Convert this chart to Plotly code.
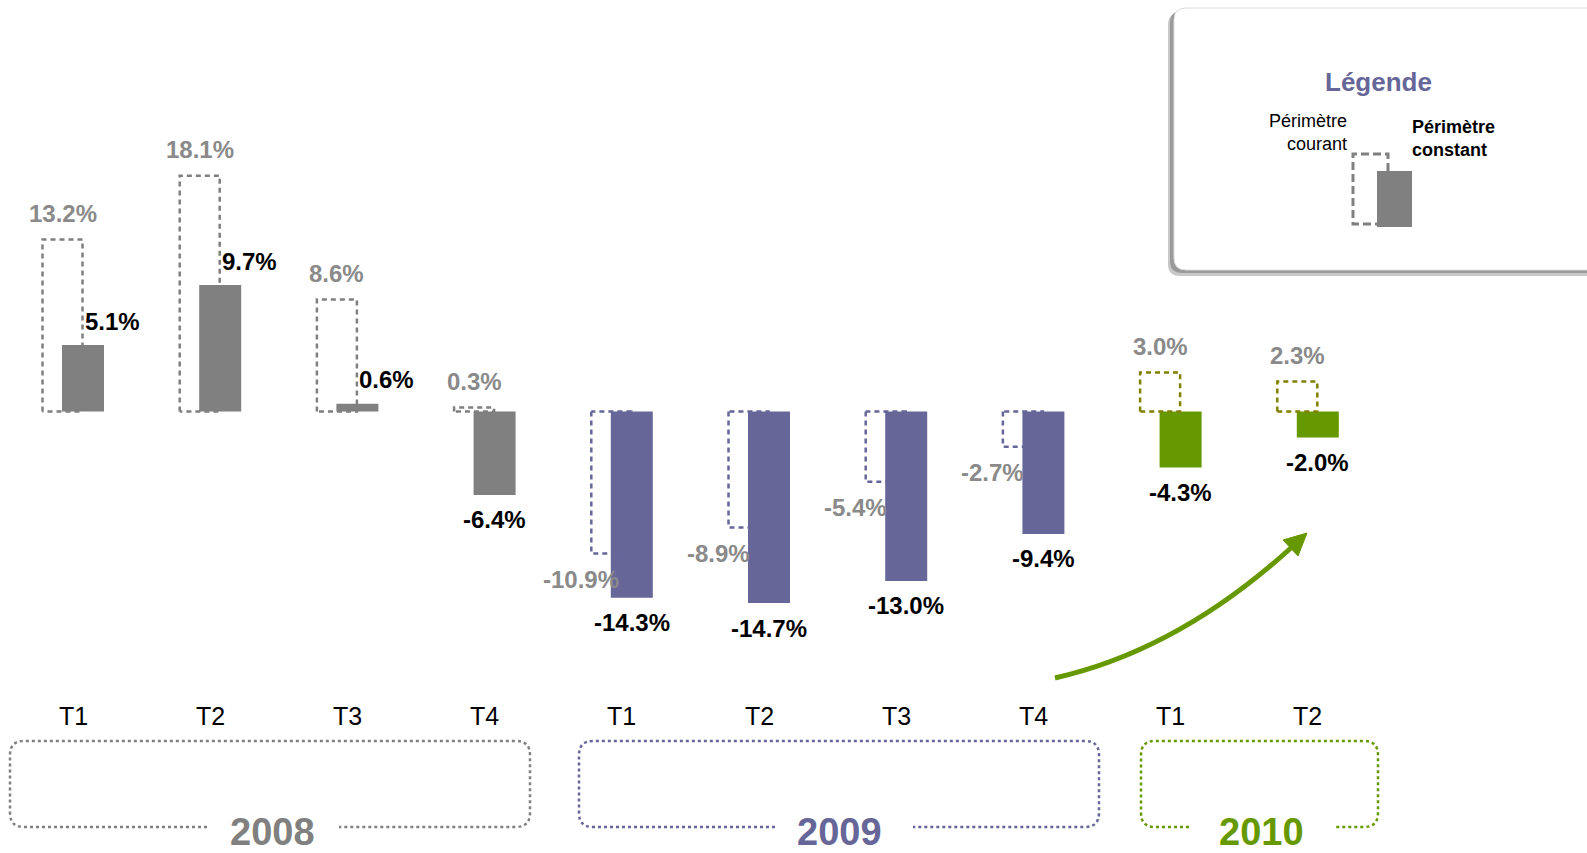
import plotly.graph_objects as go

W, H = 1587, 853

quarters = ["T1", "T2", "T3", "T4", "T1", "T2", "T3", "T4", "T1", "T2"]
years = ["2008", "2008", "2008", "2008", "2009", "2009", "2009", "2009", "2010", "2010"]
courant = [13.2, 18.1, 8.6, 0.3, -10.9, -8.9, -5.4, -2.7, 3.0, 2.3]
constant = [5.1, 9.7, 0.6, -6.4, -14.3, -14.7, -13.0, -9.4, -4.3, -2.0]

fill_col = {"2008": "#808080", "2009": "#666699", "2010": "#669900"}
dash_col = {"2008": "#7f7f7f", "2009": "#666699", "2010": "#808000"}
gray_txt = "#8a8a8a"
FONT = "Liberation Sans, Arial, sans-serif"

# pixel geometry of the slide: group pitch 137.2px, zero line at 411.5px, 13.03px per point
pitch, x0px = 137.2, 73
zero_px, ppp = 411.5, 13.03
d_left, d_right = -30.5 / pitch, 9.5 / pitch      # dashed bar edges
f_off, f_w = -11 / pitch, 42 / pitch               # filled bar

x = list(range(len(quarters)))

fig = go.Figure()

# dashed "périmètre courant" outlines, one trace per year
for yr in ["2008", "2009", "2010"]:
    xs, ys = [], []
    for i, v in enumerate(courant):
        if years[i] != yr:
            continue
        xl, xr = i + d_left, i + d_right
        xs += [xl, xl, xr, xr, xl, None]
        ys += [0, v, v, 0, 0, None]
    fig.add_trace(go.Scatter(x=xs, y=ys, mode="lines", hoverinfo="skip",
                             line=dict(color=dash_col[yr], width=2.5, dash="5px,4px")))

# filled "périmètre constant" bars
fig.add_trace(go.Bar(x=x, y=constant, width=f_w, offset=f_off,
                     marker=dict(color=[fill_col[y] for y in years], line=dict(width=0)),
                     hovertemplate="%{y:.1f}%<extra></extra>"))

ann = []
for i, v in enumerate(courant):
    ann.append(dict(x=i + (d_left + d_right) / 2, y=v, xref="x", yref="y",
                    text=f"<b>{v:.1f}%</b>", showarrow=False,
                    xshift=0 if v >= 0 else -30, yshift=26 if v >= 0 else -26,
                    font=dict(family=FONT, size=24, color=gray_txt)))
for i, v in enumerate(constant):
    if v >= 0:
        ann.append(dict(x=i + f_off + f_w / 2, y=v, xref="x", yref="y", xanchor="left",
                        text=f"<b>{v:.1f}%</b>", showarrow=False, xshift=0, yshift=24,
                        font=dict(family=FONT, size=24, color="black")))
    else:
        ann.append(dict(x=i + f_off + f_w / 2, y=v, xref="x", yref="y",
                        text=f"<b>{v:.1f}%</b>", showarrow=False, yshift=-25,
                        font=dict(family=FONT, size=24, color="black")))
for i, q in enumerate(quarters):
    ann.append(dict(x=i, y=1 - 716 / H, xref="x", yref="paper", text=q, showarrow=False,
                    xanchor="center", yanchor="middle",
                    font=dict(family=FONT, size=25, color="black")))


def P(px, py):
    return f"{px / W:.5f},{1 - py / H:.5f}"


def bracket(x0, x1, y0, y1, g0, g1, r=14):
    return (f"M{P(g0, y1)} L{P(x0 + r, y1)} Q{P(x0, y1)} {P(x0, y1 - r)} "
            f"L{P(x0, y0 + r)} Q{P(x0, y0)} {P(x0 + r, y0)} L{P(x1 - r, y0)} "
            f"Q{P(x1, y0)} {P(x1, y0 + r)} L{P(x1, y1 - r)} Q{P(x1, y1)} {P(x1 - r, y1)} "
            f"L{P(g1, y1)}")


def rrect(x0, y0, x1, y1, r=12):
    return (f"M{P(x0 + r, y0)} L{P(x1 - r, y0)} Q{P(x1, y0)} {P(x1, y0 + r)} "
            f"L{P(x1, y1 - r)} Q{P(x1, y1)} {P(x1 - r, y1)} L{P(x0 + r, y1)} "
            f"Q{P(x0, y1)} {P(x0, y1 - r)} L{P(x0, y0 + r)} Q{P(x0, y0)} {P(x0 + r, y0)} Z")


shapes = []
groups = [("2008", 10, 530, 207, 339, 272),
          ("2009", 579, 1099, 775, 913, 840),
          ("2010", 1141, 1378, 1189, 1334, 1261)]
for yr, bx0, bx1, g0, g1, tx in groups:
    shapes.append(dict(type="path", xref="paper", yref="paper",
                       path=bracket(bx0, bx1, 741, 827, g0, g1),
                       line=dict(color=fill_col[yr], width=2.5, dash="dot")))
    ann.append(dict(x=tx / W, y=1 - 832 / H, xref="paper", yref="paper",
                    xanchor="center", yanchor="middle",
                    text=f"<b>{yr}</b>", showarrow=False,
                    font=dict(family=FONT, size=38, color=fill_col[yr])))

# green trend arrow
shapes.append(dict(type="path", xref="paper", yref="paper",
                   path=f"M{P(1055, 678)} Q{P(1179, 650)} {P(1292, 547)}",
                   line=dict(color="#669900", width=5)))
shapes.append(dict(type="path", xref="paper", yref="paper",
                   path=f"M{P(1307, 533)} L{P(1298, 556)} L{P(1283, 540)} Z",
                   fillcolor="#669900", line=dict(color="#669900", width=1)))

# legend box
shapes.append(dict(type="path", xref="paper", yref="paper", path=rrect(1168, 13, 1620, 276),
                   fillcolor="#c8c8c8", line=dict(width=0)))
shapes.append(dict(type="path", xref="paper", yref="paper", path=rrect(1170, 11, 1620, 273),
                   fillcolor="#9a9a9a", line=dict(width=0)))
shapes.append(dict(type="path", xref="paper", yref="paper", path=rrect(1174, 8, 1620, 270),
                   fillcolor="white", line=dict(color="#dcdcdc", width=1)))
shapes.append(dict(type="path", xref="paper", yref="paper",
                   path=f"M{P(1388, 171)} L{P(1388, 154)} L{P(1353, 154)} L{P(1353, 224)} L{P(1378, 224)}",
                   line=dict(color="#808080", width=3, dash="8px,4px")))
shapes.append(dict(type="rect", xref="paper", yref="paper",
                   x0=1377 / W, x1=1412 / W, y0=1 - 227 / H, y1=1 - 171 / H,
                   fillcolor="#808080", line=dict(width=0)))
ann.append(dict(x=1378 / W, y=1 - 82 / H, xref="paper", yref="paper", showarrow=False,
                xanchor="center", yanchor="middle",
                text="<b>Légende</b>", font=dict(family=FONT, size=26, color="#666699")))
ann.append(dict(x=1349 / W, y=1 - 132 / H, xref="paper", yref="paper", showarrow=False,
                xanchor="right", yanchor="middle", align="right", text="Périmètre<br>courant",
                font=dict(family=FONT, size=18, color="black")))
ann.append(dict(x=1410 / W, y=1 - 139 / H, xref="paper", yref="paper", showarrow=False,
                xanchor="left", yanchor="middle", align="left", text="<b>Périmètre<br>constant</b>",
                font=dict(family=FONT, size=18, color="black")))

fig.update_layout(
    width=W, height=H, margin=dict(l=0, r=0, t=0, b=0),
    plot_bgcolor="white", paper_bgcolor="white", showlegend=False, barmode="overlay",
    xaxis=dict(visible=False, range=[-x0px / pitch, (W - x0px) / pitch]),
    yaxis=dict(visible=False, range=[-(H - zero_px) / ppp, zero_px / ppp]),
    annotations=ann, shapes=shapes,
)

fig.write_html("out.html", config={"displayModeBar": False},
               post_script="document.body.style.margin='0';")
